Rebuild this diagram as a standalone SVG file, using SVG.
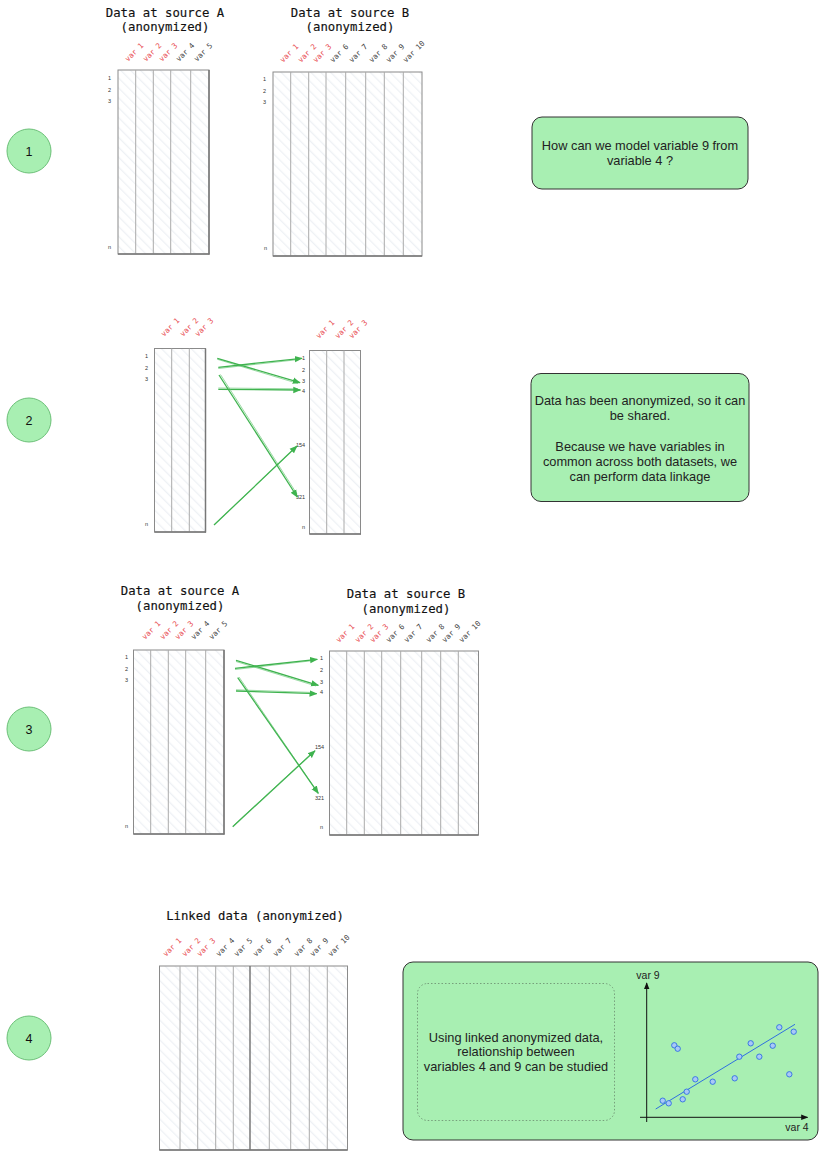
<svg xmlns="http://www.w3.org/2000/svg" width="825" height="1162" viewBox="0 0 825 1162">
<style>
.title{font-family:"DejaVu Sans Mono","Liberation Mono",monospace;font-size:12.3px;fill:#111;text-anchor:middle;stroke:#111;stroke-width:0.15}
.hdr{font-family:"DejaVu Sans Mono","Liberation Mono",monospace;font-size:7.5px;fill:#444}
.red{fill:#e8494f}
.row{font-family:"Liberation Sans",Arial,sans-serif;font-size:5.5px;fill:#333}
.frame{fill:url(#hatch);stroke:#8a8a8a;stroke-width:1}
.col{stroke:#aaaaaa;stroke-width:1}
.bot{stroke:#777;stroke-width:1.5}
.circ{fill:#a8efb2;stroke:#6cc078;stroke-width:1}
.cnum{font-family:"Liberation Sans",Arial,sans-serif;font-size:12.5px;fill:#111;text-anchor:middle}
.box{fill:#a8efb2;stroke:#333;stroke-width:1}
.btxt{font-family:"Liberation Sans",Arial,sans-serif;font-size:12.8px;fill:#222;text-anchor:middle}
.ax{font-family:"Liberation Sans",Arial,sans-serif;font-size:10.5px;fill:#222;text-anchor:middle}
.link{stroke:#3fb34f;stroke-width:1.3;fill:none;marker-end:url(#arr)}
.link2{stroke:#62c56f;stroke-width:0.8;fill:none;opacity:0.8}
.pt{fill:#a9c8f7;stroke:#2f6fe0;stroke-width:0.9}
</style>
<defs>
<pattern id="hatch" width="7" height="7" patternUnits="userSpaceOnUse" patternTransform="rotate(-45)">
<rect width="7" height="7" fill="#ffffff"/>
<line x1="0" y1="0" x2="0" y2="7" stroke="#eef1f5" stroke-width="2.5"/>
</pattern>
<marker id="arr" viewBox="0 0 10 10" refX="9" refY="5" markerWidth="8" markerHeight="8" markerUnits="userSpaceOnUse" orient="auto">
<path d="M0,1 L10,5 L0,9 z" fill="#3fb34f"/>
</marker>
<marker id="axarr" viewBox="0 0 10 10" refX="9" refY="5" markerWidth="7" markerHeight="7" markerUnits="userSpaceOnUse" orient="auto">
<path d="M0,1 L10,5 L0,9 z" fill="#111"/>
</marker>
</defs>
<rect width="825" height="1162" fill="#ffffff"/>

<!-- Step circles -->
<g id="step1"><circle class="circ" cx="29" cy="151" r="22"/><text class="cnum" x="29" y="155.5">1</text></g>
<g id="step2"><circle class="circ" cx="29" cy="420" r="22"/><text class="cnum" x="29" y="424.5">2</text></g>
<g id="step3"><circle class="circ" cx="29" cy="729" r="22"/><text class="cnum" x="29" y="733.5">3</text></g>
<g id="step4"><circle class="circ" cx="29" cy="1038" r="22"/><text class="cnum" x="29" y="1042.5">4</text></g>

<!-- Section 1: table A -->
<g id="tableA1">
<text class="title" x="165" y="17">Data at source A</text>
<text class="title" x="165" y="31">(anonymized)</text>
<text class="hdr red" transform="translate(128,62) rotate(-45)">var 1</text>
<text class="hdr red" transform="translate(146,62) rotate(-45)">var 2</text>
<text class="hdr red" transform="translate(162,62) rotate(-45)">var 3</text>
<text class="hdr" transform="translate(179,62) rotate(-45)">var 4</text>
<text class="hdr" transform="translate(197,62) rotate(-45)">var 5</text>
<rect class="frame" x="118" y="70" width="91" height="184"/>
<line class="col" x1="135.7" y1="70" x2="135.7" y2="254"/>
<line class="col" x1="153.3" y1="70" x2="153.3" y2="254"/>
<line class="col" x1="170.7" y1="70" x2="170.7" y2="254"/>
<line class="col" x1="190.7" y1="70" x2="190.7" y2="254"/>
<line class="bot" x1="209" y1="70" x2="209" y2="254.5"/>
<line class="bot" x1="118" y1="254" x2="209.5" y2="254"/>
<text class="row" x="108" y="80">1</text>
<text class="row" x="108" y="92">2</text>
<text class="row" x="108" y="103">3</text>
<text class="row" x="108" y="249">n</text>
</g>

<!-- Section 1: table B -->
<g id="tableB1">
<text class="title" x="350" y="17">Data at source B</text>
<text class="title" x="350" y="31">(anonymized)</text>
<text class="hdr red" transform="translate(283,63) rotate(-45)">var 1</text>
<text class="hdr red" transform="translate(301,63) rotate(-45)">var 2</text>
<text class="hdr red" transform="translate(316,63) rotate(-45)">var 3</text>
<text class="hdr" transform="translate(333,63) rotate(-45)">var 6</text>
<text class="hdr" transform="translate(352,63) rotate(-45)">var 7</text>
<text class="hdr" transform="translate(372,63) rotate(-45)">var 8</text>
<text class="hdr" transform="translate(389,63) rotate(-45)">var 9</text>
<text class="hdr" transform="translate(406,63) rotate(-45)">var 10</text>
<rect class="frame" x="273" y="72" width="149" height="184"/>
<line class="col" x1="290.7" y1="72" x2="290.7" y2="256"/>
<line class="col" x1="308.7" y1="72" x2="308.7" y2="256"/>
<line class="col" x1="326" y1="72" x2="326" y2="256"/>
<line class="col" x1="345.7" y1="72" x2="345.7" y2="256"/>
<line class="col" x1="365.7" y1="72" x2="365.7" y2="256"/>
<line class="col" x1="384.3" y1="72" x2="384.3" y2="256"/>
<line class="col" x1="403.3" y1="72" x2="403.3" y2="256"/>
<line class="bot" x1="273" y1="256" x2="422" y2="256"/>
<text class="row" x="263" y="81">1</text>
<text class="row" x="263" y="93">2</text>
<text class="row" x="263" y="104">3</text>
<text class="row" x="264" y="250">n</text>
</g>

<g id="note1">
<rect class="box" x="532" y="117" width="216" height="72" rx="10"/>
<text class="btxt" x="640" y="149.5">How can we model variable 9 from</text>
<text class="btxt" x="640" y="165">variable 4 ?</text>
</g>

<!-- Section 2 -->
<g id="tableA2">
<text class="hdr red" transform="translate(164,337) rotate(-45)">var 1</text>
<text class="hdr red" transform="translate(183,337) rotate(-45)">var 2</text>
<text class="hdr red" transform="translate(198,337) rotate(-45)">var 3</text>
<rect class="frame" x="154.5" y="348.5" width="51" height="183.5"/>
<line class="col" x1="171.7" y1="348.5" x2="171.7" y2="532"/>
<line class="col" x1="189.3" y1="348.5" x2="189.3" y2="532"/>
<line class="bot" x1="205.5" y1="348.5" x2="205.5" y2="532.5"/>
<line class="bot" x1="154.5" y1="532" x2="206" y2="532"/>
<text class="row" x="145" y="358">1</text>
<text class="row" x="145" y="369.5">2</text>
<text class="row" x="145" y="381">3</text>
<text class="row" x="145" y="526">n</text>
</g>

<g id="tableB2">
<text class="hdr red" transform="translate(319,339) rotate(-45)">var 1</text>
<text class="hdr red" transform="translate(338,339) rotate(-45)">var 2</text>
<text class="hdr red" transform="translate(352,339) rotate(-45)">var 3</text>
<rect class="frame" x="309.5" y="350.5" width="51" height="183.5"/>
<line class="col" x1="326.7" y1="350.5" x2="326.7" y2="534"/>
<line class="col" x1="344" y1="350.5" x2="344" y2="534"/>
<line class="bot" x1="309.5" y1="534" x2="361" y2="534"/>
<text class="row" x="302" y="360">1</text>
<text class="row" x="302" y="371.5">2</text>
<text class="row" x="302" y="383">3</text>
<text class="row" x="302" y="393">4</text>
<text class="row" x="296" y="446.5">154</text>
<text class="row" x="296" y="499">321</text>
<text class="row" x="302" y="529">n</text>
</g>

<g id="note2">
<rect class="box" x="531" y="373.5" width="218" height="128" rx="10"/>
<text class="btxt" x="640" y="404.5">Data has been anonymized, so it can</text>
<text class="btxt" x="640" y="419.5">be shared.</text>
<text class="btxt" x="640" y="450.5">Because we have variables in</text>
<text class="btxt" x="640" y="465.5">common across both datasets, we</text>
<text class="btxt" x="640" y="480.5">can perform data linkage</text>
</g>

<!-- Section 3 -->
<g id="tableA3">
<text class="title" x="180" y="595">Data at source A</text>
<text class="title" x="180" y="610">(anonymized)</text>
<text class="hdr red" transform="translate(145,640) rotate(-45)">var 1</text>
<text class="hdr red" transform="translate(163,640) rotate(-45)">var 2</text>
<text class="hdr red" transform="translate(178,640) rotate(-45)">var 3</text>
<text class="hdr" transform="translate(194,640) rotate(-45)">var 4</text>
<text class="hdr" transform="translate(212,640) rotate(-45)">var 5</text>
<rect class="frame" x="133.5" y="650" width="90.5" height="184"/>
<line class="col" x1="150.7" y1="650" x2="150.7" y2="834"/>
<line class="col" x1="168.3" y1="650" x2="168.3" y2="834"/>
<line class="col" x1="185.7" y1="650" x2="185.7" y2="834"/>
<line class="col" x1="205.7" y1="650" x2="205.7" y2="834"/>
<line class="bot" x1="224" y1="650" x2="224" y2="834.5"/>
<line class="bot" x1="133.5" y1="834" x2="224.5" y2="834"/>
<text class="row" x="125" y="659">1</text>
<text class="row" x="125" y="671">2</text>
<text class="row" x="125" y="682">3</text>
<text class="row" x="125" y="828">n</text>
</g>

<g id="tableB3">
<text class="title" x="406" y="598">Data at source B</text>
<text class="title" x="406" y="613">(anonymized)</text>
<text class="hdr red" transform="translate(339,643) rotate(-45)">var 1</text>
<text class="hdr red" transform="translate(358,643) rotate(-45)">var 2</text>
<text class="hdr red" transform="translate(373,643) rotate(-45)">var 3</text>
<text class="hdr" transform="translate(389,643) rotate(-45)">var 6</text>
<text class="hdr" transform="translate(407,643) rotate(-45)">var 7</text>
<text class="hdr" transform="translate(429,643) rotate(-45)">var 8</text>
<text class="hdr" transform="translate(445,643) rotate(-45)">var 9</text>
<text class="hdr" transform="translate(462,643) rotate(-45)">var 10</text>
<rect class="frame" x="329.5" y="651" width="149" height="184"/>
<line class="col" x1="346.7" y1="651" x2="346.7" y2="835"/>
<line class="col" x1="364.3" y1="651" x2="364.3" y2="835"/>
<line class="col" x1="381.7" y1="651" x2="381.7" y2="835"/>
<line class="col" x1="400.7" y1="651" x2="400.7" y2="835"/>
<line class="col" x1="421.7" y1="651" x2="421.7" y2="835"/>
<line class="col" x1="440.7" y1="651" x2="440.7" y2="835"/>
<line class="col" x1="458.3" y1="651" x2="458.3" y2="835"/>
<line class="bot" x1="329.5" y1="835" x2="478.5" y2="835"/>
<text class="row" x="320" y="660">1</text>
<text class="row" x="320" y="671.5">2</text>
<text class="row" x="320" y="683.5">3</text>
<text class="row" x="320" y="694">4</text>
<text class="row" x="315" y="748.5">154</text>
<text class="row" x="315" y="800">321</text>
<text class="row" x="320" y="828.5">n</text>
</g>

<!-- Section 4 -->
<g id="linked">
<text class="title" x="255" y="920">Linked data (anonymized)</text>
<text class="hdr red" transform="translate(166,957) rotate(-45)">var 1</text>
<text class="hdr red" transform="translate(185,957) rotate(-45)">var 2</text>
<text class="hdr red" transform="translate(200,957) rotate(-45)">var 3</text>
<text class="hdr" transform="translate(219,957) rotate(-45)">var 4</text>
<text class="hdr" transform="translate(237,957) rotate(-45)">var 5</text>
<text class="hdr" transform="translate(256,957) rotate(-45)">var 6</text>
<text class="hdr" transform="translate(276,957) rotate(-45)">var 7</text>
<text class="hdr" transform="translate(297,957) rotate(-45)">var 8</text>
<text class="hdr" transform="translate(313,957) rotate(-45)">var 9</text>
<text class="hdr" transform="translate(331,957) rotate(-45)">var 10</text>
<rect class="frame" x="159.5" y="966" width="188" height="184"/>
<line class="col" x1="180" y1="966" x2="180" y2="1150"/>
<line class="col" x1="197.7" y1="966" x2="197.7" y2="1150"/>
<line class="col" x1="215.7" y1="966" x2="215.7" y2="1150"/>
<line class="col" x1="233.3" y1="966" x2="233.3" y2="1150"/>
<line class="bot" x1="250" y1="966" x2="250" y2="1150"/>
<line class="col" x1="269.3" y1="966" x2="269.3" y2="1150"/>
<line class="col" x1="290.7" y1="966" x2="290.7" y2="1150"/>
<line class="col" x1="309.3" y1="966" x2="309.3" y2="1150"/>
<line class="col" x1="327.3" y1="966" x2="327.3" y2="1150"/>
<line class="bot" x1="159.5" y1="1150" x2="347.5" y2="1150"/>
</g>

<g id="note4">
<rect class="box" x="403" y="962" width="415" height="178" rx="10"/>
<rect x="417.5" y="983.5" width="197" height="137" rx="10" fill="none" stroke="#6a8a6d" stroke-width="0.8" stroke-dasharray="1.5,2"/>
<text class="btxt" x="516" y="1041.5">Using linked anonymized data,</text>
<text class="btxt" x="516" y="1056">relationship between</text>
<text class="btxt" x="516" y="1071">variables 4 and 9 can be studied</text>
<line x1="646.7" y1="1122" x2="646.7" y2="983" stroke="#111" stroke-width="1" marker-end="url(#axarr)"/>
<line x1="640" y1="1117.3" x2="807.5" y2="1117.3" stroke="#111" stroke-width="1" marker-end="url(#axarr)"/>
<text class="ax" x="648" y="979">var 9</text>
<text class="ax" x="797" y="1130.5">var 4</text>
<line x1="655.7" y1="1109" x2="795" y2="1024.3" stroke="#2f6fe0" stroke-width="1"/>
<circle class="pt" cx="662.7" cy="1100.7" r="2.7"/>
<circle class="pt" cx="668.7" cy="1103.3" r="2.7"/>
<circle class="pt" cx="682.7" cy="1099.3" r="2.7"/>
<circle class="pt" cx="686.7" cy="1091.7" r="2.7"/>
<circle class="pt" cx="695.3" cy="1079.3" r="2.7"/>
<circle class="pt" cx="712.7" cy="1081.7" r="2.7"/>
<circle class="pt" cx="674.3" cy="1045.3" r="2.7"/>
<circle class="pt" cx="677.7" cy="1048.7" r="2.7"/>
<circle class="pt" cx="734.7" cy="1078.3" r="2.7"/>
<circle class="pt" cx="739.3" cy="1056.7" r="2.7"/>
<circle class="pt" cx="750.7" cy="1043.3" r="2.7"/>
<circle class="pt" cx="759.3" cy="1056.7" r="2.7"/>
<circle class="pt" cx="772.7" cy="1045.7" r="2.7"/>
<circle class="pt" cx="779.3" cy="1027.3" r="2.7"/>
<circle class="pt" cx="793.7" cy="1031.7" r="2.7"/>
<circle class="pt" cx="789.3" cy="1074.3" r="2.7"/>
</g>

<!-- Connectors -->
<g id="connectors">
<line class="link2" x1="217.3" y1="359.3" x2="298" y2="383.5"/>
<line class="link" x1="217.3" y1="358.3" x2="300" y2="382.7"/>
<line class="link2" x1="218.3" y1="368.5" x2="299" y2="359.5"/>
<line class="link" x1="218.3" y1="367.3" x2="302" y2="358.3"/>
<line class="link2" x1="218.3" y1="388" x2="298" y2="388.8"/>
<line class="link" x1="218.3" y1="389.3" x2="300.5" y2="390"/>
<line class="link2" x1="220.5" y1="374.5" x2="297" y2="494"/>
<line class="link" x1="219" y1="375" x2="297.3" y2="497"/>
<line class="link2" x1="215" y1="524" x2="294" y2="449"/>
<line class="link" x1="214" y1="525" x2="297" y2="446"/>

<line class="link2" x1="236" y1="661.5" x2="316" y2="686"/>
<line class="link" x1="236" y1="660.3" x2="318.3" y2="685.3"/>
<line class="link2" x1="235" y1="669.5" x2="314" y2="660.5"/>
<line class="link" x1="235" y1="668.3" x2="317.3" y2="659.3"/>
<line class="link2" x1="236" y1="689.8" x2="314" y2="692.5"/>
<line class="link" x1="236" y1="691" x2="316.7" y2="693.7"/>
<line class="link2" x1="239" y1="677" x2="316" y2="790"/>
<line class="link" x1="237.7" y1="677.7" x2="318.3" y2="793.3"/>
<line class="link2" x1="233.5" y1="825.5" x2="312" y2="753"/>
<line class="link" x1="232.7" y1="826.7" x2="315" y2="750.7"/>
</g>
</svg>
